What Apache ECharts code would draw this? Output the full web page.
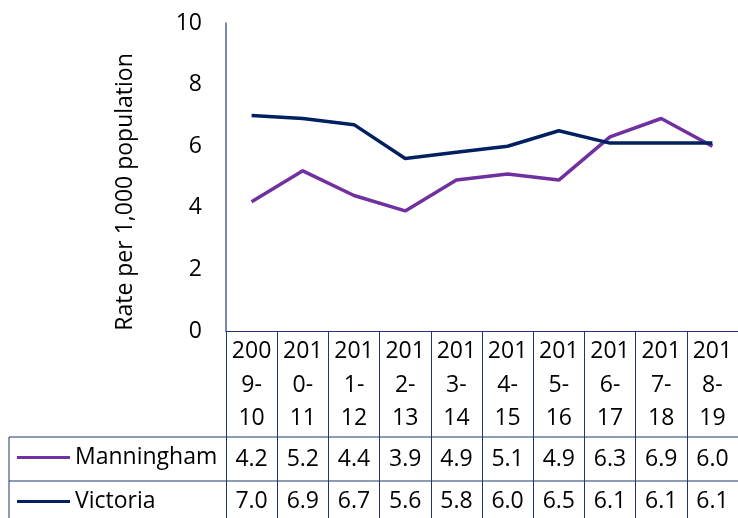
<!DOCTYPE html>
<html lang="en">
<head>
    <meta charset="UTF-8">
    <title>Rate per 1,000 population</title>
    <script src="https://cdn.jsdelivr.net/npm/echarts@6/dist/echarts.min.js"></script>
</head>
<body style="margin:0;">
<div id="main" style="width:738px;height:518px;"></div>
<script type="text/javascript">
    // data
    var years = ['2009-10', '2010-11', '2011-12', '2012-13', '2013-14',
        '2014-15', '2015-16', '2016-17', '2017-18', '2018-19'];
    var manningham = [4.2, 5.2, 4.4, 3.9, 4.9, 5.1, 4.9, 6.3, 6.9, 6.0];
    var victoria = [7.0, 6.9, 6.7, 5.6, 5.8, 6.0, 6.5, 6.1, 6.1, 6.1];
    var yTicks = [0, 2, 4, 6, 8, 10];

    var FONT = 'Open Sans';
    var tableLine = '#1f3470';

    var myChart = echarts.init(document.getElementById('main'));

    // header cell: "2009-10" -> "200\n9-\n10" like the wrapped excel cells
    function wrapYear(v) {
        var parts = v.split('-');
        return parts[0].slice(0, 3) + '\n' + parts[0].slice(3) + '-\n' + parts[1];
    }

    function rowAxis(values, margin) {
        return {
            type: 'category',
            data: years,
            position: 'bottom',
            offset: 0,
            axisLine: {show: false},
            axisTick: {show: false},
            axisLabel: {
                interval: 0,
                margin: margin,
                fontFamily: FONT,
                fontSize: 23,
                lineHeight: 24,
                color: '#000',
                formatter: function (val, idx) {
                    return values[idx].toFixed(1);
                }
            }
        };
    }

    // one legend per table row, sitting in the row header cell
    function rowLegend(name, top) {
        return {
            left: 17,
            top: top,
            padding: 0,
            icon: 'rect',
            itemWidth: 53,
            itemHeight: 3,
            itemGap: 0,
            textStyle: {fontFamily: FONT, fontSize: 23, color: '#000'},
            data: [name]
        };
    }

    var option = {
        backgroundColor: '#fff',
        animation: false,
        grid: {left: 226, right: 0, top: 23, bottom: 187},
        legend: [
            rowLegend('Manningham', 446),
            rowLegend('Victoria', 490)
        ],
        xAxis: [{
            type: 'category',
            data: years,
            boundaryGap: true,
            axisLine: {show: true, lineStyle: {color: tableLine, width: 1}},
            axisTick: {show: true, interval: 0, length: 187, lineStyle: {color: tableLine, width: 1}},
            axisLabel: {
                interval: 0,
                margin: 4,
                fontFamily: FONT,
                fontSize: 23,
                lineHeight: 33.5,
                color: '#000',
                formatter: wrapYear
            }
        },
            rowAxis(manningham, 116),
            rowAxis(victoria, 158)
        ],
        yAxis: {
            type: 'value',
            min: yTicks[0],
            max: yTicks[yTicks.length - 1],
            interval: 2,
            name: 'Rate per 1,000 population',
            nameLocation: 'middle',
            nameGap: 89,
            nameTextStyle: {fontFamily: FONT, fontSize: 23, color: '#000', padding: [0, 30, 0, 0]},
            axisLine: {show: true, lineStyle: {color: '#4a619c', width: 1.5}},
            axisTick: {show: false},
            splitLine: {show: false},
            axisLabel: {margin: 24, fontFamily: FONT, fontSize: 23, color: '#000'}
        },
        graphic: [
            {type: 'line', shape: {x1: 9, y1: 437, x2: 738, y2: 437}, style: {stroke: tableLine, lineWidth: 1}},
            {type: 'line', shape: {x1: 9, y1: 481, x2: 738, y2: 481}, style: {stroke: tableLine, lineWidth: 1}},
            {type: 'line', shape: {x1: 9, y1: 437, x2: 9, y2: 518}, style: {stroke: tableLine, lineWidth: 1}}
        ],
        series: [
            {
                name: 'Manningham',
                type: 'line',
                data: manningham,
                symbol: 'none',
                lineStyle: {color: '#7030a0', width: 3.5},
                itemStyle: {color: '#7030a0'}
            },
            {
                name: 'Victoria',
                type: 'line',
                data: victoria,
                symbol: 'none',
                lineStyle: {color: '#002060', width: 3.5},
                itemStyle: {color: '#002060'}
            }
        ]
    };

    myChart.setOption(option);
</script>
</body>
</html>
